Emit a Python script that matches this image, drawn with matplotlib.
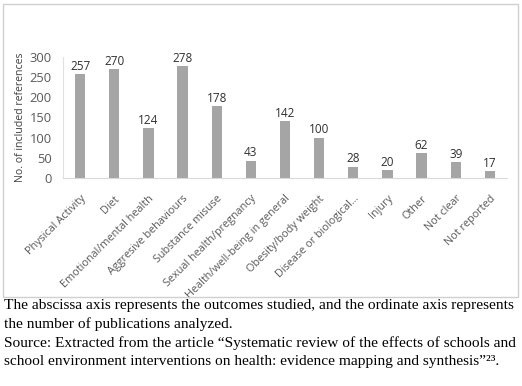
import matplotlib.pyplot as plt
from matplotlib.patches import Rectangle

# outcomes and number of included references
outcomes = ["Physical Activity", "Diet", "Emotional/mental health", "Aggresive behaviours",
            "Substance misuse", "Sexual health/pregnancy", "Health/well-being in general",
            "Obesity/body weight", "Disease or biological...", "Injury", "Other",
            "Not clear", "Not reported"]
counts = [257, 270, 124, 278, 178, 43, 142, 100, 28, 20, 62, 39, 17]
y_ticks = [0, 50, 100, 150, 200, 250, 300]

caption = [
    "The abscissa axis represents the outcomes studied, and the ordinate axis represents",
    "the number of publications analyzed.",
    "Source: Extracted from the article \u201cSystematic review of the effects of schools and",
    "school environment interventions on health: evidence mapping and synthesis\u201d\u00b2\u00b3.",
]

W, H = 522, 386
fig = plt.figure(figsize=(W / 100, H / 100), dpi=100)
ax = fig.add_axes([63 / W, 1 - 178 / H, (507 - 63) / W, (178 - 57) / H])

x = range(len(outcomes))
ax.bar(x, counts, width=0.3, color="#a5a5a5")
for xi, c in zip(x, counts):
    ax.text(xi, c + 3, str(c), ha="center", va="bottom", fontsize=8.5,
            color="#303030", family="Open Sans")

ax.set_xlim(-0.5, len(outcomes) - 0.5)
ax.set_ylim(0, 300)
ax.set_yticks(y_ticks)
ax.set_yticklabels([str(v) for v in y_ticks], family="Open Sans", fontsize=9.3, color="#595959")
ax.set_xticks(list(x))
ax.set_xticklabels(outcomes, rotation=45, ha="right", rotation_mode="anchor",
                   family="Open Sans", fontsize=7.8, color="#595959")
ax.tick_params(axis="both", length=0)
ax.tick_params(axis="x", pad=11)
ax.tick_params(axis="y", pad=8)
ax.set_ylabel("No. of included references", family="Open Sans", fontsize=7.6, color="#404040", labelpad=3)

for s in ["top", "right"]:
    ax.spines[s].set_visible(False)
ax.spines["left"].set_color("#e0e0e0")
ax.spines["bottom"].set_color("#d9d9d9")

# frame around the chart
fig.patches.append(Rectangle((3 / W, 1 - 297 / H), (518 - 3) / W, (297 - 4) / H,
                             transform=fig.transFigure, fill=False,
                             edgecolor="#d0d0d0", linewidth=1))

for i, line in enumerate(caption):
    fig.text(4 / W, 1 - (306 + i * 18.5) / H, line, ha="left", va="center",
             family="Liberation Serif", fontsize=11.1, color="black")

fig.savefig("out.png", dpi=100)
